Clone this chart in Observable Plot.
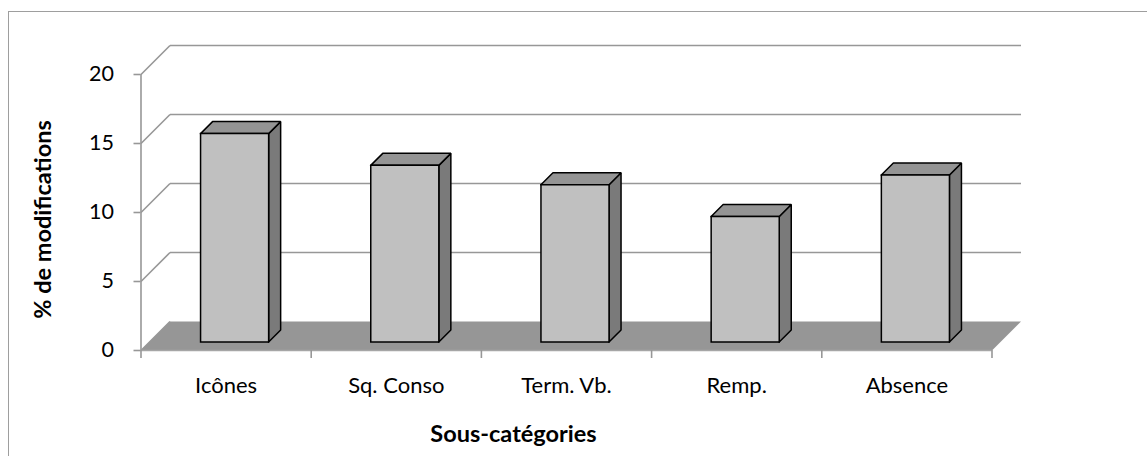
<!DOCTYPE html>
<html>
<head>
<meta charset="utf-8">
<script src="https://cdn.jsdelivr.net/npm/d3@7"></script>
<script src="https://cdn.jsdelivr.net/npm/@observablehq/plot@0.6"></script>
<style>
  html, body { margin: 0; padding: 0; background: #fff; }
  #wrap { position: relative; width: 1147px; height: 456px; overflow: hidden; }
  #border { position: absolute; left: 8px; top: 11px; width: 3000px; height: 3000px;
            border-left: 1.5px solid #9e9e9e; border-top: 1.5px solid #9e9e9e; }
  #chart { position: absolute; left: 0; top: 0; }
</style>
</head>
<body>
<div id="wrap"><div id="border"></div><div id="chart"></div></div>
<script>
// ---- data ----
const categories = ["Icônes", "Sq. Conso", "Term. Vb.", "Remp.", "Absence"];
const values = [15.1, 12.8, 11.4, 9.1, 12.1];
const yTicks = [0, 5, 10, 15, 20];
const yTitle = "% de modifications";
const xTitle = "Sous-catégories";

// ---- layout (pixels) ----
const W = 1147, H = 456;
const mL = 140.5, mR = 155.5, mT = 74, mB = 106;
const DEPTH = 29;            // back wall offset (px, up-right)
const BAR_D0 = 8.5, BAR_D1 = 20.5; // bar depth span
const BAR_W = 0.4;           // fraction of band
const FONT = "Lato, 'Open Sans', sans-serif";

const nCat = categories.length;
const yMax = yTicks[yTicks.length - 1];
const kx = nCat / (W - mL - mR);   // data units per px (x)
const ky = yMax / (H - mT - mB);   // data units per px (y)
const P = (c, v, d) => ({x: c + d * kx, y: v + d * ky});

// wall / floor geometry
const wallDiag = yTicks.map(t => { const a = P(0, t, 0), b = P(0, t, DEPTH); return {x1: a.x, y1: a.y, x2: b.x, y2: b.y}; });
const backGrid = yTicks.filter(t => t > 0).map(t => { const a = P(0, t, DEPTH), b = P(nCat, t, DEPTH); return {x1: a.x, y1: a.y, x2: b.x, y2: b.y}; });
const floor = [P(0,0,0), P(nCat,0,0), P(nCat,0,DEPTH), P(0,0,DEPTH), P(0,0,0)];

// bar faces
const fronts = [], tops = [], sides = [];
values.forEach((v, i) => {
  const x1 = i + 0.5 - BAR_W / 2, x2 = i + 0.5 + BAR_W / 2;
  const k = categories[i];
  [P(x1,0,BAR_D0), P(x2,0,BAR_D0), P(x2,v,BAR_D0), P(x1,v,BAR_D0), P(x1,0,BAR_D0)].forEach(p => fronts.push({...p, k}));
  [P(x1,v,BAR_D0), P(x2,v,BAR_D0), P(x2,v,BAR_D1), P(x1,v,BAR_D1), P(x1,v,BAR_D0)].forEach(p => tops.push({...p, k}));
  [P(x2,0,BAR_D0), P(x2,v,BAR_D0), P(x2,v,BAR_D1), P(x2,0,BAR_D1), P(x2,0,BAR_D0)].forEach(p => sides.push({...p, k}));
});

const gridColor = "#979797";
const edge = {stroke: "#000", strokeWidth: 1.5, strokeLinejoin: "miter", strokeLinecap: "square"};

const chart = Plot.plot({
  width: W, height: H,
  marginLeft: mL, marginRight: mR, marginTop: mT, marginBottom: mB,
  style: {fontFamily: FONT, color: "#000", background: "transparent", overflow: "visible"},
  x: {type: "linear", domain: [0, nCat]},
  y: {type: "linear", domain: [0, yMax]},
  marks: [
    Plot.link(wallDiag, {x1: "x1", y1: "y1", x2: "x2", y2: "y2", stroke: gridColor, strokeWidth: 1.6}),
    Plot.link(backGrid, {x1: "x1", y1: "y1", x2: "x2", y2: "y2", stroke: gridColor, strokeWidth: 1.6}),
    Plot.line(floor, {x: "x", y: "y", fill: "#969696", stroke: "none", curve: "linear"}),
    Plot.ruleX([0], {y1: 0, y2: yMax, stroke: gridColor, strokeWidth: 1.6}),
    Plot.ruleY([0], {x1: 0, x2: nCat, stroke: "#a6a6a6", strokeWidth: 1.6}),
    Plot.line(sides, {x: "x", y: "y", z: "k", fill: "#7a7a7a", ...edge}),
    Plot.line(tops, {x: "x", y: "y", z: "k", fill: "#949494", ...edge}),
    Plot.line(fronts, {x: "x", y: "y", z: "k", fill: "#c0c0c0", ...edge}),
    Plot.axisY({ticks: yTicks, tickSize: 7, tickPadding: 20, stroke: gridColor, strokeWidth: 1.6,
                fontSize: 21.5, label: null, tickFormat: d => String(d)}),
    Plot.axisX({ticks: d3.range(nCat + 1), tickSize: 8, stroke: gridColor, strokeWidth: 1.6,
                tickFormat: () => "", label: null}),
    Plot.axisX({ticks: d3.range(nCat).map(i => i + 0.5), tickSize: 0, tickPadding: 27,
                fontSize: 22, label: null, tickFormat: d => categories[Math.floor(d)]}),
    Plot.text([yTitle], {frameAnchor: "left", dx: -98, dy: 7, rotate: -90, text: d => d,
                fontSize: 23.5, fontWeight: "bold", textAnchor: "middle", lineAnchor: "middle"}),
    Plot.text([xTitle], {frameAnchor: "bottom", dx: -53, dy: 84, text: d => d,
                fontSize: 23.5, fontWeight: "bold", textAnchor: "middle", lineAnchor: "middle"})
  ]
});
document.getElementById("chart").appendChild(chart);
</script>
</body>
</html>
